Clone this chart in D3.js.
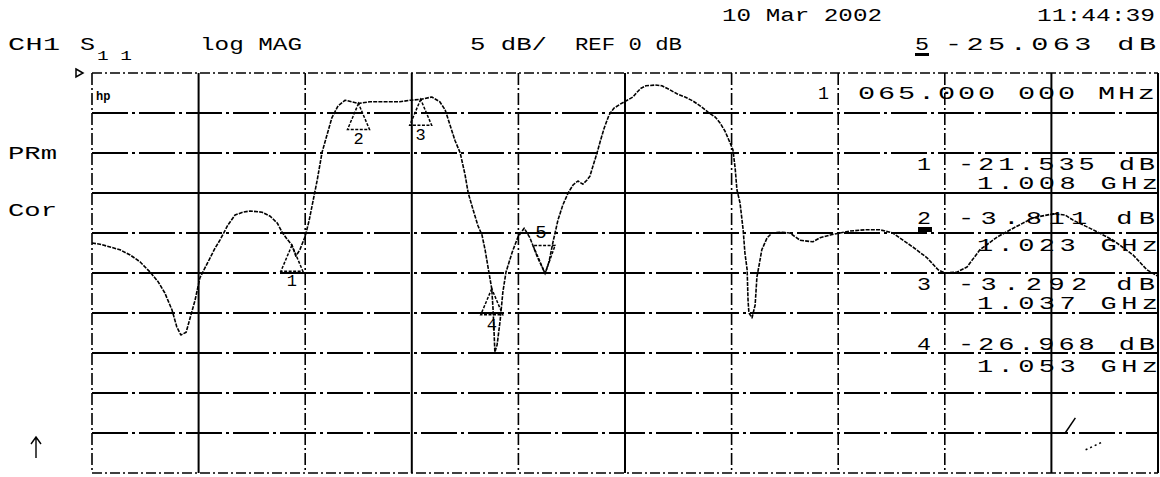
<!DOCTYPE html>
<html><head><meta charset="utf-8">
<script src="https://cdn.jsdelivr.net/npm/d3@7"></script>
<style>
html,body{margin:0;padding:0;background:#fff;}
svg{display:block;}
text{font-family:"Liberation Mono","DejaVu Sans Mono",monospace;fill:#000;}
</style></head>
<body>
<svg id="chart" width="1160" height="477"></svg>
<script>
// ---- data (frequency in MHz, magnitude in dB) ----
const startFreq = 963, stopFreq = 1203;
const refLevel = 0, scaleDiv = 5, nDivY = 10, nDivX = 10;

const traceFreq = [963.0,964.8,967.1,969.3,971.6,973.8,976.1,977.9,979.4,981.0,982.1,983.0,984.2,985.1,986.2,987.3,988.4,989.6,990.7,991.8,993.6,995.2,997.0,998.6,1001.3,1003.1,1004.7,1005.8,1006.9,1008.0,1008.9,1009.8,1011.0,1011.9,1012.8,1013.7,1014.8,1015.9,1017.0,1018.4,1020.0,1023.0,1025.6,1029.0,1032.3,1034.6,1037.0,1039.5,1041.3,1042.5,1043.6,1044.7,1045.9,1047.0,1047.7,1048.8,1049.9,1050.8,1051.5,1052.2,1053.0,1053.3,1053.5,1053.7,1054.2,1054.9,1055.5,1056.2,1057.6,1058.9,1060.3,1061.6,1063.2,1065.0,1065.9,1066.8,1067.9,1069.0,1070.2,1071.3,1072.4,1073.5,1074.4,1075.1,1076.0,1076.7,1077.4,1078.3,1079.4,1080.5,1081.9,1083.5,1084.8,1085.7,1086.6,1087.7,1089.8,1091.3,1093.1,1094.7,1096.5,1098.3,1099.9,1101.7,1103.3,1104.4,1105.5,1106.4,1107.3,1107.8,1108.2,1108.9,1109.6,1110.0,1110.5,1110.7,1110.9,1111.6,1112.3,1112.7,1113.2,1113.8,1115.0,1116.1,1117.9,1120.1,1122.4,1125.3,1126.9,1129.2,1131.4,1133.7,1137.0,1140.4,1143.3,1147.8,1151.0,1153.5,1155.0,1157.7,1160.0,1162.9,1166.8,1170.4,1174.9,1179.4,1182.1,1183.9,1188.4,1192.9,1197.4,1200.5,1203.0];
const traceDb = [-21.25,-21.4,-21.75,-22.1,-22.75,-23.6,-24.9,-26.1,-27.5,-29.6,-31.75,-32.75,-32.4,-30.6,-28.4,-25.6,-24.4,-23.1,-21.9,-20.9,-19.0,-17.75,-17.4,-17.25,-17.4,-17.9,-18.75,-19.9,-20.75,-21.5,-22.9,-22.1,-20.4,-18.4,-15.9,-13.4,-9.9,-7.75,-5.6,-4.1,-3.4,-3.8,-3.6,-3.6,-3.6,-3.4,-3.3,-3.0,-3.6,-4.6,-6.5,-8.4,-10.0,-12.75,-15.0,-17.1,-19.1,-20.25,-22.1,-24.4,-26.97,-29.6,-32.1,-34.9,-34.0,-30.9,-27.4,-24.9,-22.4,-20.5,-19.4,-20.6,-22.9,-25.06,-23.6,-21.1,-18.4,-16.5,-15.0,-14.0,-13.5,-13.9,-13.4,-12.9,-11.25,-10.0,-8.6,-6.9,-5.25,-4.4,-3.9,-3.4,-3.0,-2.4,-1.9,-1.6,-1.5,-1.6,-2.1,-2.6,-3.0,-3.5,-4.1,-4.9,-5.5,-6.25,-7.25,-8.4,-9.6,-11.9,-14.6,-16.25,-19.6,-22.5,-24.6,-28.4,-30.0,-30.6,-29.0,-25.5,-24.0,-22.1,-20.6,-20.0,-19.9,-20.0,-20.9,-21.1,-20.6,-20.25,-20.0,-19.75,-19.6,-19.6,-20.0,-21.75,-23.1,-24.6,-25.0,-24.9,-24.25,-22.1,-20.5,-19.4,-18.1,-17.6,-17.75,-18.4,-19.6,-20.9,-22.75,-24.6,-25.4];

// stray strokes in lower right of screen
const strayFreq = [[1182.1,1184.4],[1186.7,1190.6]];
const strayDb = [[-45.0,-43.1],[-47.1,-46.1]];

const markerNum = [1,2,3,4,5];
const markerFreq = [1008,1023,1037,1053,1065];
const markerDb = [-21.535,-3.811,-3.292,-26.968,-25.063];
const activeMarker = 5;

const dateText = "10 Mar 2002";
const timeText = "11:44:39";
const channelText = "CH1";
const paramText = "S";
const paramSub = "11";
const formatText = "log MAG";
const scaleText = "5 dB/";
const refText = "REF 0 dB";
const leftLabels = ["PRm","Cor"];

// ---- scales ----
const svg = d3.select("#chart");
const x = d3.scaleLinear().domain([startFreq, stopFreq]).range([92, 1158]);
const y = d3.scaleLinear().domain([refLevel, refLevel - scaleDiv*nDivY]).range([73, 473]);

// ---- graticule ----
const g = svg.append("g");
const xTicks = d3.range(nDivX+1).map(i => startFreq + i*(stopFreq-startFreq)/nDivX);
const yTicks = d3.range(nDivY+1).map(i => refLevel - i*scaleDiv);
const solidV = new Set([1,3,5,9,10]);
g.selectAll("line.v").data(xTicks).join("line")
  .attr("x1", d=>x(d)).attr("x2", d=>x(d)).attr("y1", y(yTicks[0])).attr("y2", y(yTicks[nDivY]))
  .attr("stroke","#000").attr("stroke-width", (d,i)=> solidV.has(i)?2:1.6)
  .attr("stroke-dasharray", (d,i)=> solidV.has(i)? null : "12,3,2,3");
g.selectAll("line.h").data(yTicks).join("line")
  .attr("x1", x(startFreq)).attr("x2", x(stopFreq)).attr("y1", d=>y(d)).attr("y2", d=>y(d))
  .attr("stroke","#000").attr("stroke-width", (d,i)=> (i===0||i===nDivY)?1.6:2)
  .attr("stroke-dasharray", (d,i)=> (i===0||i===nDivY)? "10,3,2,3" : (i===3? null : "36,4,3,4"));

// reference position indicator
svg.append("path")
  .attr("d", `M${x(startFreq)-16},${y(refLevel)-4} l7,4 l-7,4 z`)
  .attr("fill","none").attr("stroke","#000").attr("stroke-width",1.5);

// ---- trace ----
const pts = traceFreq.map((f,i)=>[f, traceDb[i]]);
const line = d3.line().x(d=>x(d[0])).y(d=>y(d[1]));
svg.append("path").datum(pts).attr("d", line)
  .attr("fill","none").attr("stroke","#000").attr("stroke-width",1.6)
  .attr("stroke-dasharray","4,1.2").attr("stroke-linejoin","round");
strayFreq.forEach((fs,k)=>{
  svg.append("path").datum(fs.map((f,i)=>[f, strayDb[k][i]])).attr("d", line)
    .attr("fill","none").attr("stroke","#000").attr("stroke-width",1.5)
    .attr("stroke-dasharray", k===1?"2,3":null);
});

// ---- markers ----
markerNum.forEach((n,i)=>{
  const mx = x(markerFreq[i]), my = y(markerDb[i]);
  if (n === activeMarker) {
    svg.append("path").attr("d", `M${mx},${my} L${mx-12},${my-28} L${mx+10},${my-28} Z`)
      .attr("fill","none").attr("stroke","#000").attr("stroke-width",1.5).attr("stroke-dasharray","3,1.5");
    svg.append("text").attr("x", mx-4).attr("y", my-36).attr("text-anchor","middle")
      .attr("font-size",19).text(n);
  } else {
    svg.append("path").attr("d", `M${mx},${my} L${mx-11},${my+26} L${mx+11},${my+26} Z`)
      .attr("fill","none").attr("stroke","#000").attr("stroke-width",1.5).attr("stroke-dasharray","3,1.5");
    svg.append("text").attr("x", mx).attr("y", my+41).attr("text-anchor","middle")
      .attr("font-size",17).text(n);
  }
});

// ---- text helper: glyphs widened (up to 1.5x), rest of the width as spacing ----
function txt(s, x0, x1, base, size) {
  size = size || 19;
  const natural = s.length * 0.6 * size;
  const gs = Math.max(0.9, Math.min(1.5, (x1 - x0) / natural));
  const t = svg.append("text")
    .attr("transform", `translate(${x0},${base}) scale(${gs},1)`)
    .attr("x", 0).attr("y", 0).attr("font-size", size).text(s);
  if (s.length > 1) t.attr("textLength", (x1-x0)/gs).attr("lengthAdjust","spacing");
  return t;
}
const fmtDb = v => d3.format(".3f")(v).replace("\u2212","-");

// header
txt(dateText, 722, 882, 21);
txt(timeText, 1037, 1155, 21);
txt(channelText, 8, 60, 50);
txt(paramText, 80, 95, 50);
txt(paramSub.split("").join(" "), 97, 132, 60, 13);
txt(formatText, 200, 302, 50);
txt(scaleText, 470, 547, 50);
txt(refText, 575, 682, 50);
const act = markerNum.indexOf(activeMarker);
txt(String(activeMarker), 915, 929, 50);
svg.append("rect").attr("x",915).attr("y",53).attr("width",14).attr("height",3).attr("fill","#000");
txt(fmtDb(markerDb[act]) + " dB", 945, 1156, 50);

// left annotations
txt(leftLabels[0], 8, 57, 159);
txt(leftLabels[1], 8, 57, 216);
svg.append("path").attr("d","M36,458 V438 M31,444 L36,437 L41,444")
  .attr("fill","none").attr("stroke","#000").attr("stroke-width",1.4);
svg.append("text").attr("x", 96).attr("y", 100).attr("font-size",12).attr("font-weight","bold")
  .attr("font-family","DejaVu Sans Condensed, DejaVu Sans").text("hp");

// active marker frequency
const afStr = d3.format(".6f")(markerFreq[act]);   // "1065.000000"
const [afInt, afDec] = afStr.split(".");
txt(afInt.slice(0,1), 818, 829, 99);
txt(afInt.slice(1) + "." + afDec.slice(0,3) + " " + afDec.slice(3) + " MHz", 858, 1155, 99);

// marker readout list
const rowBase = [[170,189],[224,251],[290,309],[350,372]];
markerNum.filter(n=>n!==activeMarker).forEach((n,i)=>{
  const [b1,b2] = rowBase[i];
  txt(String(n), 917, 931, b1, 18);
  txt(fmtDb(markerDb[i]) + " dB", 958, 1155, b1, 18);
  txt(d3.format(".3f")(markerFreq[i]/1000) + " GHz", 977, 1158, b2, 18);
});
svg.append("rect").attr("x",918).attr("y",227).attr("width",14).attr("height",5).attr("fill","#000");
</script>
</body></html>
